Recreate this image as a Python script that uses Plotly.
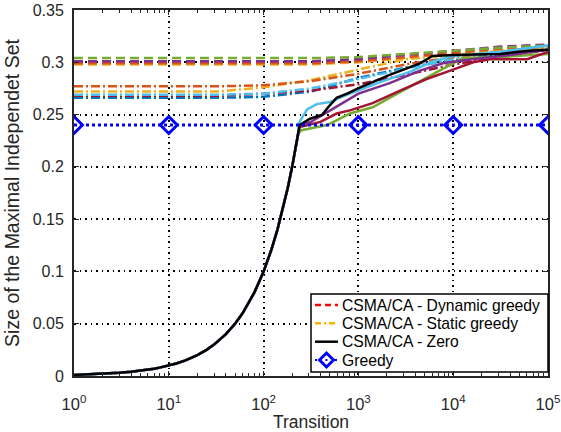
import plotly.graph_objects as go

# ---------------- data ----------------
# Greedy (decade points)
greedy_x = [1, 10, 100, 1000, 10000, 100000]
greedy_y = [0.240, 0.240, 0.240, 0.240, 0.240, 0.240]

# CSMA/CA - Dynamic greedy runs (dashed), x in transitions
dyn_x = [1, 10, 100, 316, 1000, 3162, 10000, 31623, 100000]
dyn_green = [0.304, 0.304, 0.304, 0.304, 0.305, 0.308, 0.311, 0.314, 0.316]
dyn_purple = [0.301, 0.301, 0.301, 0.301, 0.303, 0.307, 0.311, 0.315, 0.317]
dyn_orange = [0.299, 0.299, 0.299, 0.299, 0.301, 0.305, 0.309, 0.313, 0.316]
dyn_yellow = [0.298, 0.298, 0.298, 0.298, 0.300, 0.304, 0.309, 0.312, 0.315]

# CSMA/CA - Static greedy runs (dash-dot)
sta_x = [1, 10, 32, 100, 316, 1000, 3162, 10000, 31623, 100000]
sta_orange = [0.277, 0.277, 0.277, 0.278, 0.282, 0.289, 0.298, 0.305, 0.310, 0.315]
sta_yellow = [0.272, 0.272, 0.272, 0.276, 0.283, 0.293, 0.303, 0.307, 0.311, 0.314]
sta_lightblue = [0.269, 0.269, 0.269, 0.270, 0.275, 0.284, 0.294, 0.303, 0.310, 0.316]
sta_red = [0.268, 0.268, 0.268, 0.270, 0.273, 0.279, 0.288, 0.298, 0.305, 0.312]
sta_blue = [0.266, 0.266, 0.266, 0.267, 0.272, 0.285, 0.295, 0.302, 0.308, 0.313]

# CSMA/CA - Zero runs (solid): common start-up ramp, then individual tails
ramp_x = [1, 1.5, 2, 2.5, 3, 4, 5, 6, 7, 8, 10, 12, 15, 20, 25, 30, 40, 50, 60, 70,
          80, 100, 120, 140, 160, 180, 200, 220, 232]
ramp_y = [0.001, 0.0015, 0.002, 0.0025, 0.003, 0.004, 0.005, 0.006, 0.007, 0.008,
          0.010, 0.012, 0.015, 0.020, 0.025, 0.030, 0.040, 0.050, 0.060, 0.070,
          0.080, 0.100, 0.120, 0.140, 0.160, 0.180, 0.200, 0.220, 0.232]

zero_black_x = [240, 309, 417, 479, 589, 759, 1047, 2138, 4467, 6026, 10000, 31623, 63096, 100000]
zero_black_y = [0.240, 0.246, 0.250, 0.257, 0.266, 0.270, 0.276, 0.288, 0.299, 0.306,
                0.307, 0.308, 0.311, 0.312]
zero_lightblue_x = [236, 288, 363, 501, 708, 1047, 1698, 3548, 5754, 10000, 31623, 100000]
zero_lightblue_y = [0.242, 0.255, 0.260, 0.262, 0.268, 0.274, 0.281, 0.291, 0.300, 0.306,
                    0.310, 0.316]
zero_purple_x = [240, 316, 468, 692, 1000, 2138, 4467, 7762, 15849, 39811, 100000]
zero_purple_y = [0.240, 0.243, 0.252, 0.261, 0.270, 0.280, 0.292, 0.299, 0.303, 0.307, 0.312]
zero_red_x = [240, 398, 589, 813, 1413, 2754, 5248, 9333, 16218, 24547, 60256, 100000]
zero_red_y = [0.238, 0.243, 0.251, 0.254, 0.261, 0.273, 0.284, 0.292, 0.300, 0.303, 0.303, 0.310]
zero_green_x = [251, 468, 813, 1413, 2570, 4786, 9333, 12589, 31623, 100000]
zero_green_y = [0.235, 0.240, 0.251, 0.257, 0.270, 0.283, 0.297, 0.304, 0.305, 0.308]

x_tickvals = [1, 10, 100, 1000, 10000, 100000]
x_ticktext = ["10<sup>0</sup>", "10<sup>1</sup>", "10<sup>2</sup>",
              "10<sup>3</sup>", "10<sup>4</sup>", "10<sup>5</sup>"]
y_tickvals = [0, 0.05, 0.1, 0.15, 0.2, 0.25, 0.3, 0.35]
y_ticktext = ["0", "0.05", "0.1", "0.15", "0.2", "0.25", "0.3", "0.35"]

legend_labels = ["CSMA/CA - Dynamic greedy", "CSMA/CA - Static greedy",
                 "CSMA/CA - Zero", "Greedy"]

C_BLUE = "#0072BD"
C_ORANGE = "#D95319"
C_YELLOW = "#EDB120"
C_PURPLE = "#7E2F8E"
C_GREEN = "#77AC30"
C_LBLUE = "#4DBEEE"
C_RED = "#A2142F"

DASH = "9px,5px"
DASHDOT = "9px,3px,2px,3px"
LW = 2.5

fig = go.Figure()

def add(x, y, color, dash, width=LW):
    fig.add_trace(go.Scatter(x=x, y=y, mode="lines", showlegend=False,
                             line=dict(color=color, dash=dash, width=width)))

# static greedy
for yv, c in [(sta_blue, C_BLUE), (sta_red, C_RED), (sta_lightblue, C_LBLUE),
              (sta_yellow, C_YELLOW), (sta_orange, C_ORANGE)]:
    add(sta_x, yv, c, DASHDOT)

# dynamic greedy
for yv, c in [(dyn_yellow, C_YELLOW), (dyn_orange, C_ORANGE), (dyn_purple, C_PURPLE),
              (dyn_green, C_GREEN)]:
    add(dyn_x, yv, c, DASH)

# zero
for tx, ty, c in [(zero_green_x, zero_green_y, C_GREEN), (zero_red_x, zero_red_y, C_RED),
                  (zero_purple_x, zero_purple_y, C_PURPLE),
                  (zero_lightblue_x, zero_lightblue_y, C_LBLUE),
                  (zero_black_x, zero_black_y, "#000000")]:
    add(ramp_x + tx, ramp_y + ty, c, "solid")

# greedy
fig.add_trace(go.Scatter(x=greedy_x, y=greedy_y, mode="lines+markers", showlegend=False,
                         line=dict(color="#0000FF", dash="3px,3px", width=3),
                         marker=dict(symbol="diamond-open", size=13, color="#0000FF",
                                     line=dict(width=3, color="#0000FF"))))

# ---------- MATLAB-style legend box (paper coordinates of the plot area) ----------
PW, PH = 474.0, 366.0          # plot area size in px
def px(v):                      # horizontal px offset from plot left -> paper
    return v / PW
def py(v):                      # vertical px offset from plot bottom -> paper
    return v / PH

box_l, box_r, box_b, box_t = px(237), 1.0, py(4), py(82)
fig.add_shape(type="rect", xref="paper", yref="paper", x0=box_l, x1=box_r, y0=box_b, y1=box_t,
              fillcolor="white", line=dict(color="#000000", width=1.5), layer="above")
row_y = [py(71), py(52.7), py(34.3), py(16)]
sym_x0, sym_x1 = px(241), px(264)
sym_styles = [dict(color="#FF0000", dash="6px,4px", width=2.5),
              dict(color="#FFB000", dash="6px,3px,2px,3px", width=2.5),
              dict(color="#000000", dash="solid", width=2.5),
              dict(color="#0000FF", dash="2px,2px", width=2)]
for ry, st in zip(row_y, sym_styles):
    fig.add_shape(type="line", xref="paper", yref="paper", x0=sym_x0, x1=sym_x1, y0=ry, y1=ry,
                  line=st, layer="above")
# diamond marker for the Greedy entry
cx, cy, hx, hy = px(252.5), row_y[3], px(7), py(7)
fig.add_shape(type="path", xref="paper", yref="paper", layer="above",
              path=f"M {cx - hx},{cy} L {cx},{cy + hy} L {cx + hx},{cy} L {cx},{cy - hy} Z",
              fillcolor="white", line=dict(color="#0000FF", width=3))
fig.add_shape(type="line", xref="paper", yref="paper", layer="above",
              x0=cx - px(1), x1=cx + px(1), y0=cy, y1=cy,
              line=dict(color="#0000FF", width=2))
for ry, lab in zip(row_y, legend_labels):
    fig.add_annotation(xref="paper", yref="paper", x=px(266), y=ry, text=lab,
                       xanchor="left", yanchor="middle", showarrow=False,
                       font=dict(size=15.7, color="#000000"))

axis_common = dict(showline=True, linecolor="#262626", linewidth=2, mirror="ticks",
                   ticks="inside", ticklen=5, tickcolor="#262626", tickwidth=1,
                   showgrid=True, gridcolor="#000000", gridwidth=1.5, griddash="1.5px,4px",
                   zeroline=False, automargin=False, ticklabeloverflow="allow")

minor_x = [m * 10 ** d for d in range(5) for m in range(2, 10)]

fig.update_layout(
    width=561, height=432,
    margin=dict(l=74, r=13, t=10, b=56),
    paper_bgcolor="white", plot_bgcolor="white",
    showlegend=False,
    font=dict(family="Liberation Sans, Arial, sans-serif", color="#262626", size=16),
    xaxis=dict(type="log", range=[0, 5], tickvals=x_tickvals, ticktext=x_ticktext,
               ticklabelstandoff=12, tickfont=dict(size=16.5, color="#262626"),
               minor=dict(tickmode="array", tickvals=minor_x, ticks="inside", ticklen=3,
                          tickcolor="#262626", showgrid=False),
               title=dict(text="Transition", font=dict(size=17.5), standoff=2), **axis_common),
    yaxis=dict(range=[0, 0.35], tickvals=y_tickvals, ticktext=y_ticktext, ticklabelstandoff=5,
               tickfont=dict(size=16, color="#262626"),
               title=dict(text="Size of the Maximal Independet Set", font=dict(size=19.5),
                          standoff=8), **axis_common),
)

fig.write_html("out.html", config={"displayModeBar": False},
               post_script="document.body.style.margin='0';")
